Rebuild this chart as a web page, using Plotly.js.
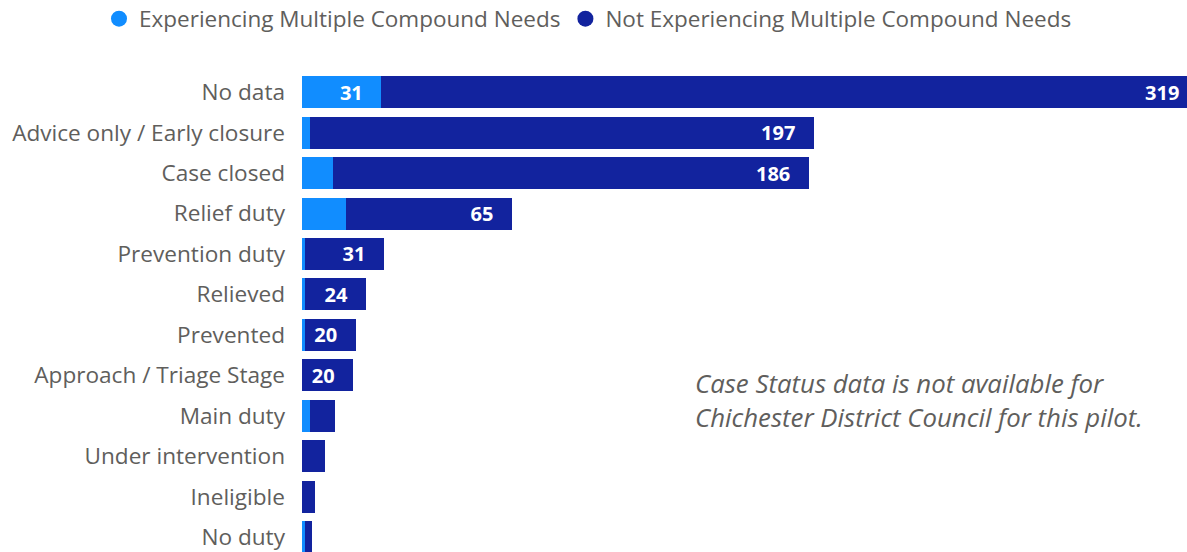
<!DOCTYPE html>
<html>
<head>
<meta charset="utf-8">
<script src="https://cdn.plot.ly/plotly-3.0.1.min.js"></script>
<style>
html,body{margin:0;padding:0;overflow:hidden;background:#fff;}
#chart{width:1200px;height:552px;}
</style>
</head>
<body>
<div id="chart"></div>
<script>
const categories = ["No data","Advice only / Early closure","Case closed","Relief duty","Prevention duty","Relieved","Prevented","Approach / Triage Stage","Main duty","Under intervention","Ineligible","No duty"];
const experiencing = [31,3,12,17,1,1,1,0,3,0,0,1];
const notExperiencing = [319,197,186,65,31,24,20,20,10,9,5,3];
const seriesNames = ["Experiencing Multiple Compound Needs","Not Experiencing Multiple Compound Needs"];
const noteLines = ["Case Status data is not available for","Chichester District Council for this pilot."];

const LIGHT = "#118DFF", DARK = "#12239E";
const PAD = "\u00a0\u00a0\u00a0";
const labelOf = v => v >= 20 ? String(v) + PAD : "";

const font = "Open Sans, Noto Sans, sans-serif";
const barCommon = {
  type: "bar", orientation: "h", y: categories, showlegend: false,
  textposition: "inside", insidetextanchor: "end", constraintext: "none",
  textfont: {family: font, size: 20, color: "#ffffff", weight: "bold"},
  hoverinfo: "none", cliponaxis: true
};
const data = [
  Object.assign({}, barCommon, {x: experiencing, name: seriesNames[0], marker: {color: LIGHT},
    text: experiencing.map(labelOf), texttemplate: "%{text}"}),
  Object.assign({}, barCommon, {x: notExperiencing, name: seriesNames[1], marker: {color: DARK},
    text: notExperiencing.map(labelOf), texttemplate: "%{text}"}),
  {type: "scatter", mode: "markers", x: [null], y: [null], name: seriesNames[0],
   marker: {color: LIGHT, size: 18, symbol: "circle"}, hoverinfo: "none"},
  {type: "scatter", mode: "markers", x: [null], y: [null], name: seriesNames[1],
   marker: {color: DARK, size: 18, symbol: "circle"}, hoverinfo: "none"}
];

const noteX = (693 - 302) / 898;
const layout = {
  width: 1200, height: 552,
  margin: {l: 302, r: 0, t: 72, b: 0, autoexpand: false},
  paper_bgcolor: "#ffffff", plot_bgcolor: "#ffffff",
  barmode: "stack", bargap: 0.21,
  font: {family: font, color: "#605E5C"},
  xaxis: {range: [0, 350.8], showgrid: false, zeroline: false, showticklabels: false, showline: false, fixedrange: true},
  yaxis: {type: "category", range: [11.37, -0.5], showgrid: false, zeroline: false, showline: false,
          ticks: "", ticklabelstandoff: 16, tickfont: {family: font, size: 22.6, color: "#605E5C"}, fixedrange: true},
  showlegend: true,
  legend: {orientation: "h", traceorder: "normal", x: (99 - 302) / 898, xanchor: "left", y: 1 + (72 - 19) / 480, yanchor: "middle",
           font: {family: font, size: 22.5, color: "#605E5C"}, itemwidth: 30, tracegroupgap: 0,
           bgcolor: "rgba(0,0,0,0)"},
  annotations: [
    {xref: "paper", yref: "paper", x: noteX, y: 1 - (383 - 72) / 480, xanchor: "left", yanchor: "middle",
     text: noteLines[0], showarrow: false, font: {family: font, size: 25.8, color: "#605E5C", style: "italic"}},
    {xref: "paper", yref: "paper", x: noteX, y: 1 - (417 - 72) / 480, xanchor: "left", yanchor: "middle",
     text: noteLines[1], showarrow: false, font: {family: font, size: 25.8, color: "#605E5C", style: "italic"}}
  ]
};

Plotly.newPlot("chart", data, layout, {displayModeBar: false, staticPlot: true});
</script>
</body>
</html>
